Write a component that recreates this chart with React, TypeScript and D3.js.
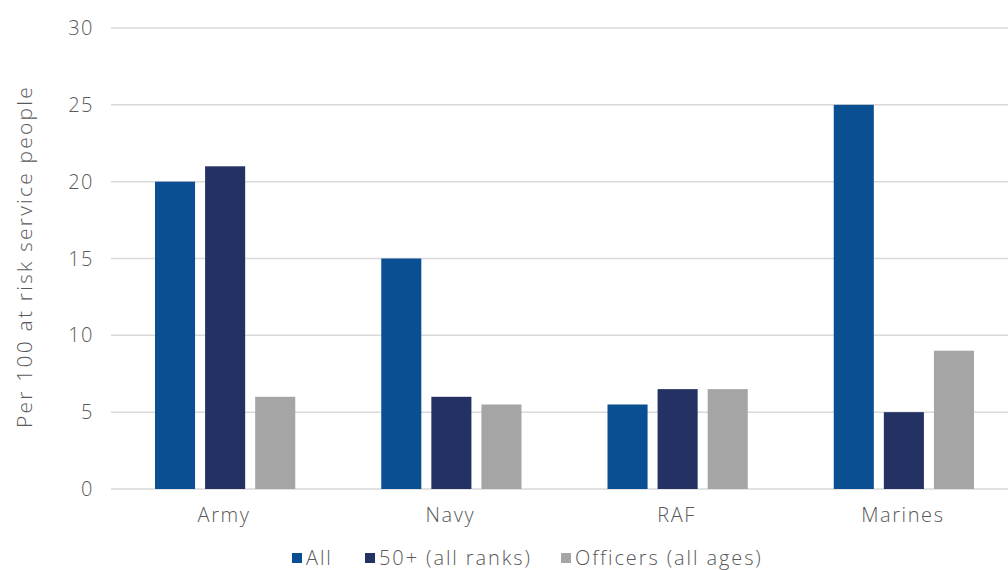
import { useEffect, useRef } from 'react';
import * as d3 from 'd3';

const categories = ['Army', 'Navy', 'RAF', 'Marines'];
const seriesNames = ['All', '50+ (all ranks)', 'Officers (all ages)'];
const allValues = [20, 15, 5.5, 25];
const over50Values = [21, 6, 6.5, 5];
const officerValues = [6, 5.5, 6.5, 9];
const yTicks = [0, 5, 10, 15, 20, 25, 30];

const colors = ['#0B4F93', '#243263', '#A5A5A5'];
const FONT = '"Open Sans", sans-serif';
const TEXT = '#595959';

export default function App() {
  const svgRef = useRef<SVGSVGElement>(null);

  useEffect(() => {
    if (!svgRef.current) return;
    const svg = d3.select(svgRef.current);
    svg.selectAll('*').remove();

    const width = 1008;
    const height = 570;
    const margin = { top: 28, right: -8, bottom: 81, left: 111 };
    const innerWidth = width - margin.left - margin.right;
    const innerHeight = height - margin.top - margin.bottom;

    const g = svg.append('g').attr('transform', `translate(${margin.left},${margin.top})`);

    const x = d3.scaleBand<string>().domain(categories).range([0, innerWidth]);
    const inner = d3.scaleBand<string>()
      .domain(seriesNames)
      .range([44, x.bandwidth() - 42])
      .paddingInner(0.2);
    const y = d3.scaleLinear().domain([0, 30]).range([innerHeight, 0]);

    const label = (sel: any, size: number, spacing: number) =>
      sel.style('font-family', FONT)
        .style('font-weight', 300)
        .style('font-size', `${size}px`)
        .style('letter-spacing', `${spacing}px`)
        .style('fill', TEXT);

    // grid lines
    g.append('g')
      .selectAll('line')
      .data(yTicks)
      .enter().append('line')
      .attr('x1', 0)
      .attr('x2', innerWidth)
      .attr('y1', d => y(d))
      .attr('y2', d => y(d))
      .attr('stroke', '#D9D9D9')
      .attr('stroke-width', 1.5);

    // y tick labels
    label(g.append('g')
      .selectAll('text')
      .data(yTicks)
      .enter().append('text')
      .attr('x', -17)
      .attr('y', d => y(d))
      .attr('dy', '0.35em')
      .attr('text-anchor', 'end'), 20, 1.5)
      .text((d: number) => d);

    const series = [allValues, over50Values, officerValues];
    series.forEach((values, si) => {
      g.append('g')
        .selectAll('rect')
        .data(values)
        .enter().append('rect')
        .attr('x', (_, i) => (x(categories[i]) as number) + (inner(seriesNames[si]) as number))
        .attr('y', d => y(d))
        .attr('width', inner.bandwidth())
        .attr('height', d => innerHeight - y(d))
        .attr('fill', colors[si]);
    });

    // x labels
    label(g.append('g')
      .selectAll('text')
      .data(categories)
      .enter().append('text')
      .attr('x', (d: string) => (x(d) as number) + x.bandwidth() / 2)
      .attr('y', innerHeight + 26)
      .attr('dy', '0.35em')
      .attr('text-anchor', 'middle'), 20, 1.6)
      .text((d: string) => d);

    // y axis title
    label(svg.append('text')
      .attr('transform', `translate(25,${margin.top + innerHeight / 2 - 2}) rotate(-90)`)
      .attr('text-anchor', 'middle')
      .attr('dy', '0.35em'), 21, 2.2)
      .text('Per 100 at risk service people');

    // legend
    const legendX = [292, 365, 561];
    const legend = svg.append('g').attr('transform', 'translate(0,558)');
    seriesNames.forEach((name, i) => {
      legend.append('rect')
        .attr('x', legendX[i])
        .attr('y', -5)
        .attr('width', 10)
        .attr('height', 10)
        .attr('fill', colors[i]);
      label(legend.append('text')
        .attr('x', legendX[i] + 14)
        .attr('y', 0)
        .attr('dy', '0.35em'), 20, 1.9)
        .text(name);
    });
  }, []);

  return (
    <svg
      ref={svgRef}
      width={1008}
      height={570}
      style={{ position: 'fixed', top: 0, left: 0, display: 'block', background: '#fff' }}
    ></svg>
  );
}
